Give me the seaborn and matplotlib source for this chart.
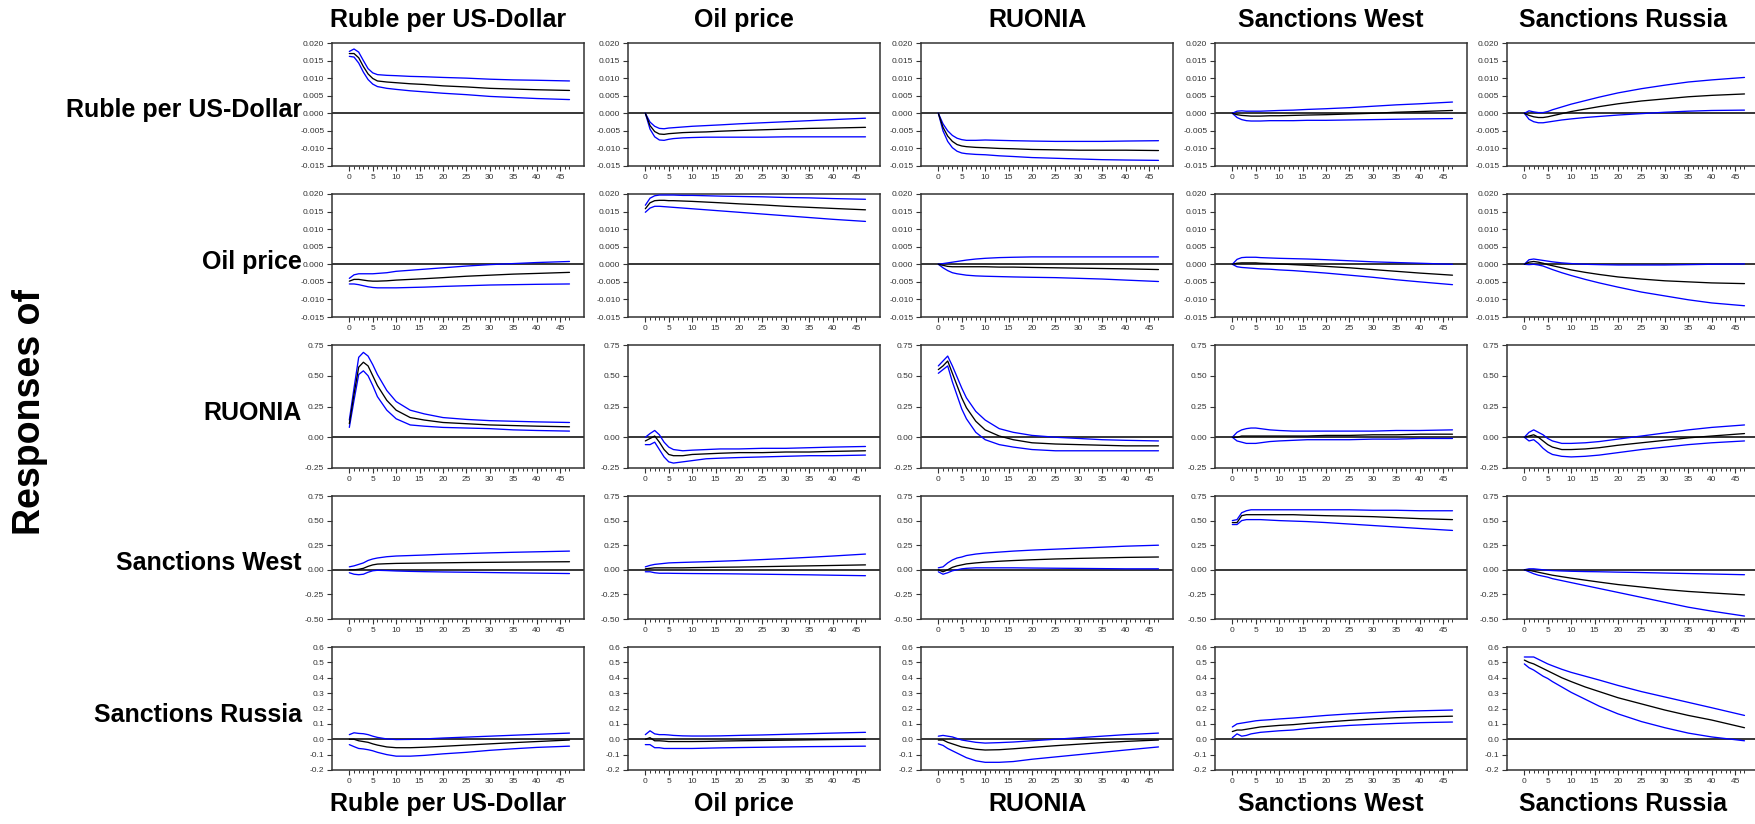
import matplotlib
matplotlib.use("Agg")
import matplotlib.pyplot as plt
import pandas as pd
import seaborn as sns
from matplotlib.ticker import FixedLocator, FormatStrFormatter, MultipleLocator

# Variables of the VAR system (shocks in columns, responses in rows)
VARIABLES = ["Ruble per US-Dollar", "Oil price", "RUONIA", "Sanctions West", "Sanctions Russia"]
HORIZON = [0, 1, 2, 3, 4, 5, 6, 8, 10, 13, 16, 20, 25, 30, 35, 40, 47]

# Responses of the ruble exchange rate; one list per shock
RUBLE_MID = [
    [.0170, .0170, .0158, .0133, .0112, .0099, .0092, .0089, .0087, .0084, .0082, .0078, .0075, .0071, .0069, .0067, .0065],
    [0, -.0035, -.0052, -.0059, -.0060, -.0058, -.0057, -.0055, -.0054, -.0053, -.0051, -.0049, -.0047, -.0045, -.0043, -.0042, -.0040],
    [0, -.0040, -.0065, -.0080, -.0089, -.0093, -.0095, -.0097, -.0098, -.0100, -.0101, -.0103, -.0104, -.0105, -.0105, -.0105, -.0106],
    [0, -.0004, -.0006, -.0007, -.0008, -.0008, -.0008, -.0007, -.0007, -.0006, -.0005, -.0004, -.0002, .0000, .0003, .0005, .0008],
    [0, -.0006, -.0010, -.0012, -.0012, -.0010, -.0007, -.0001, .0005, .0012, .0019, .0027, .0035, .0041, .0047, .0051, .0055],
]
RUBLE_LO = [
    [.0162, .0160, .0143, .0117, .0096, .0083, .0076, .0071, .0068, .0064, .0061, .0057, .0053, .0048, .0045, .0042, .0039],
    [0, -.0045, -.0067, -.0076, -.0077, -.0074, -.0072, -.0070, -.0069, -.0068, -.0068, -.0068, -.0068, -.0067, -.0067, -.0067, -.0067],
    [0, -.0050, -.0080, -.0098, -.0108, -.0113, -.0115, -.0117, -.0118, -.0121, -.0123, -.0126, -.0128, -.0130, -.0132, -.0133, -.0134],
    [0, -.0012, -.0018, -.0021, -.0022, -.0022, -.0022, -.0021, -.0021, -.0021, -.0020, -.0020, -.0019, -.0018, -.0017, -.0016, -.0015],
    [0, -.0017, -.0024, -.0027, -.0027, -.0025, -.0023, -.0019, -.0016, -.0012, -.0009, -.0005, -.0001, .0003, .0006, .0008, .0009],
]
RUBLE_HI = [
    [.0176, .0183, .0174, .0150, .0127, .0115, .0110, .0108, .0107, .0105, .0104, .0102, .0100, .0097, .0095, .0094, .0092],
    [0, -.0025, -.0037, -.0043, -.0044, -.0042, -.0041, -.0039, -.0037, -.0035, -.0033, -.0030, -.0027, -.0024, -.0021, -.0018, -.0014],
    [0, -.0030, -.0050, -.0063, -.0071, -.0075, -.0077, -.0077, -.0076, -.0077, -.0078, -.0079, -.0080, -.0080, -.0080, -.0079, -.0078],
    [0, .0006, .0007, .0006, .0006, .0006, .0006, .0007, .0008, .0009, .0011, .0013, .0016, .0020, .0024, .0027, .0032],
    [0, .0007, .0004, .0002, .0002, .0005, .0010, .0018, .0026, .0036, .0046, .0058, .0070, .0080, .0089, .0095, .0102],
]

# Responses of the oil price
OIL_MID = [
    [-.0048, -.0043, -.0043, -.0045, -.0047, -.0048, -.0048, -.0047, -.0045, -.0043, -.0041, -.0038, -.0034, -.0031, -.0028, -.0026, -.0023],
    [.0158, .0175, .0181, .0182, .0182, .0181, .0181, .0180, .0179, .0177, .0175, .0172, .0169, .0165, .0162, .0159, .0155],
    [0, -.0003, -.0006, -.0007, -.0007, -.0007, -.0007, -.0007, -.0007, -.0008, -.0008, -.0009, -.0010, -.0011, -.0012, -.0013, -.0015],
    [0, .0003, .0004, .0004, .0004, .0004, .0003, .0002, .0001, -.0001, -.0003, -.0006, -.0010, -.0015, -.0020, -.0025, -.0031],
    [0, .0006, .0008, .0006, .0003, -.0001, -.0004, -.0010, -.0016, -.0023, -.0029, -.0036, -.0042, -.0047, -.0050, -.0053, -.0055],
]
OIL_LO = [
    [-.0056, -.0056, -.0058, -.0061, -.0064, -.0066, -.0067, -.0067, -.0067, -.0066, -.0065, -.0063, -.0061, -.0059, -.0058, -.0057, -.0056],
    [.0148, .0160, .0165, .0165, .0164, .0163, .0162, .0160, .0158, .0155, .0152, .0148, .0143, .0138, .0133, .0128, .0122],
    [0, -.0010, -.0018, -.0024, -.0027, -.0029, -.0031, -.0033, -.0034, -.0035, -.0036, -.0037, -.0038, -.0040, -.0042, -.0045, -.0049],
    [0, -.0007, -.0009, -.0010, -.0011, -.0012, -.0013, -.0014, -.0016, -.0018, -.0021, -.0025, -.0031, -.0037, -.0044, -.0050, -.0058],
    [0, -.0001, .0000, -.0002, -.0005, -.0010, -.0015, -.0024, -.0032, -.0043, -.0053, -.0065, -.0079, -.0090, -.0101, -.0110, -.0118],
]
OIL_HI = [
    [-.0040, -.0030, -.0027, -.0027, -.0027, -.0027, -.0026, -.0024, -.0020, -.0017, -.0014, -.0010, -.0005, -.0001, .0002, .0005, .0008],
    [.0168, .0188, .0195, .0197, .0197, .0197, .0197, .0196, .0196, .0195, .0194, .0193, .0192, .0190, .0189, .0187, .0185],
    [0, .0002, .0004, .0006, .0008, .0010, .0012, .0015, .0017, .0019, .0020, .0021, .0021, .0021, .0021, .0021, .0021],
    [0, .0014, .0019, .0020, .0020, .0020, .0019, .0018, .0017, .0016, .0015, .0013, .0010, .0007, .0005, .0003, .0000],
    [0, .0013, .0015, .0013, .0011, .0009, .0007, .0004, .0002, .0000, -.0001, -.0002, -.0002, -.0002, -.0001, .0000, .0001],
]

# Responses of the RUONIA interbank rate
RUONIA_MID = [
    [.11, .35, .57, .61, .58, .50, .42, .30, .22, .16, .14, .12, .11, .10, .095, .09, .085],
    [-.03, -.01, .01, -.04, -.10, -.14, -.15, -.15, -.14, -.135, -.13, -.125, -.125, -.12, -.12, -.115, -.11],
    [.55, .58, .62, .52, .42, .32, .24, .13, .06, .01, -.02, -.045, -.055, -.06, -.065, -.07, -.07],
    [0, .00, .01, .01, .01, .01, .01, .01, .01, .01, .01, .015, .015, .02, .02, .025, .025],
    [0, .01, .02, .00, -.03, -.06, -.08, -.10, -.10, -.095, -.085, -.065, -.045, -.025, -.005, .01, .03],
]
RUONIA_LO = [
    [.08, .30, .51, .54, .50, .42, .33, .22, .15, .10, .09, .08, .075, .07, .06, .055, .05],
    [-.06, -.06, -.04, -.10, -.16, -.20, -.21, -.20, -.19, -.175, -.17, -.165, -.16, -.155, -.15, -.15, -.145],
    [.52, .55, .58, .45, .34, .23, .15, .04, -.02, -.06, -.08, -.10, -.11, -.11, -.11, -.11, -.11],
    [0, -.03, -.04, -.05, -.05, -.05, -.045, -.035, -.03, -.025, -.02, -.02, -.02, -.015, -.015, -.01, -.01],
    [0, -.03, -.02, -.05, -.09, -.12, -.14, -.155, -.16, -.155, -.145, -.125, -.10, -.08, -.06, -.045, -.03],
]
RUONIA_HI = [
    [.14, .40, .65, .69, .66, .59, .51, .38, .29, .22, .19, .16, .145, .135, .13, .125, .12],
    [.00, .03, .055, .02, -.04, -.08, -.10, -.11, -.105, -.10, -.095, -.095, -.09, -.09, -.085, -.08, -.075],
    [.58, .62, .66, .58, .49, .40, .32, .21, .14, .07, .04, .015, .00, -.01, -.02, -.025, -.03],
    [0, .04, .06, .07, .075, .075, .07, .06, .055, .05, .05, .05, .05, .05, .055, .055, .06],
    [0, .04, .06, .04, .02, -.01, -.03, -.05, -.05, -.045, -.035, -.015, .01, .035, .06, .08, .10],
]

# Responses of western sanctions
SWEST_MID = [
    [0, 0, .005, .015, .035, .05, .058, .062, .065, .067, .069, .071, .074, .076, .078, .08, .082],
    [.01, .015, .02, .02, .02, .02, .02, .02, .022, .024, .026, .028, .032, .036, .04, .044, .05],
    [.00, -.02, .00, .025, .04, .05, .06, .07, .078, .087, .094, .102, .11, .116, .121, .126, .13],
    [.48, .48, .55, .56, .56, .56, .56, .56, .56, .56, .555, .55, .545, .54, .53, .52, .51],
    [0, -.005, -.015, -.025, -.035, -.045, -.055, -.07, -.085, -.105, -.125, -.15, -.175, -.20, -.22, -.235, -.255],
]
SWEST_LO = [
    [-.03, -.045, -.05, -.045, -.025, -.01, -.005, -.008, -.012, -.016, -.019, -.022, -.025, -.028, -.031, -.034, -.038],
    [-.02, -.02, -.03, -.035, -.035, -.035, -.036, -.037, -.038, -.039, -.04, -.042, -.045, -.048, -.051, -.055, -.06],
    [-.02, -.045, -.03, -.01, .00, .01, .015, .02, .02, .02, .02, .018, .016, .014, .012, .01, .01],
    [.46, .46, .50, .51, .51, .51, .51, .505, .50, .495, .49, .48, .465, .45, .435, .42, .40],
    [0, -.02, -.04, -.055, -.065, -.075, -.09, -.11, -.13, -.16, -.19, -.23, -.28, -.33, -.38, -.42, -.47],
]
SWEST_HI = [
    [.03, .04, .055, .07, .095, .11, .12, .133, .14, .145, .15, .158, .165, .172, .178, .183, .19],
    [.03, .045, .055, .06, .065, .07, .072, .075, .078, .082, .087, .094, .104, .115, .127, .14, .16],
    [.02, .03, .07, .10, .12, .13, .145, .16, .17, .18, .19, .20, .21, .22, .23, .24, .25],
    [.50, .51, .58, .60, .61, .61, .61, .61, .61, .61, .61, .61, .61, .605, .605, .60, .60],
    [0, .01, .01, .005, .0, -.005, -.008, -.012, -.015, -.018, -.02, -.024, -.028, -.033, -.038, -.043, -.05],
]

# Responses of Russian counter-sanctions
SRUS_MID = [
    [.0, .0, -.01, -.015, -.02, -.03, -.038, -.05, -.055, -.055, -.052, -.046, -.038, -.03, -.022, -.015, -.005],
    [.0, .01, -.01, -.01, -.012, -.015, -.015, -.015, -.015, -.014, -.012, -.01, -.008, -.006, -.004, -.002, .0],
    [-.005, -.005, -.02, -.03, -.04, -.05, -.055, -.065, -.07, -.068, -.062, -.053, -.042, -.032, -.022, -.014, -.005],
    [.05, .06, .06, .065, .07, .075, .08, .085, .09, .095, .103, .112, .123, .132, .14, .145, .15],
    [.515, .50, .49, .475, .46, .445, .43, .40, .375, .34, .31, .27, .23, .19, .155, .125, .075],
]
SRUS_LO = [
    [-.035, -.048, -.06, -.063, -.068, -.075, -.085, -.10, -.11, -.11, -.105, -.095, -.085, -.072, -.062, -.053, -.045],
    [-.035, -.035, -.055, -.055, -.06, -.06, -.06, -.06, -.06, -.058, -.056, -.054, -.052, -.05, -.048, -.047, -.045],
    [-.03, -.04, -.06, -.075, -.09, -.105, -.12, -.14, -.15, -.15, -.145, -.13, -.115, -.10, -.085, -.07, -.05],
    [.01, .035, .02, .025, .035, .04, .045, .05, .055, .06, .07, .08, .09, .097, .103, .108, .112],
    [.49, .465, .45, .43, .41, .395, .375, .34, .305, .26, .215, .165, .115, .075, .04, .015, -.01],
]
SRUS_HI = [
    [.03, .042, .038, .036, .03, .02, .012, .002, -.002, -.001, .002, .008, .014, .02, .026, .032, .04],
    [.03, .055, .035, .03, .03, .028, .025, .022, .021, .021, .022, .025, .028, .032, .036, .04, .045],
    [.02, .025, .02, .015, .005, -.005, -.01, -.02, -.025, -.022, -.018, -.01, .0, .01, .02, .03, .04],
    [.08, .10, .105, .11, .115, .12, .123, .127, .132, .138, .145, .155, .165, .173, .18, .185, .19],
    [.535, .535, .535, .52, .505, .49, .478, .455, .435, .41, .385, .35, .31, .275, .24, .205, .155],
]

RESPONSES = [
    (RUBLE_MID, RUBLE_LO, RUBLE_HI),
    (OIL_MID, OIL_LO, OIL_HI),
    (RUONIA_MID, RUONIA_LO, RUONIA_HI),
    (SWEST_MID, SWEST_LO, SWEST_HI),
    (SRUS_MID, SRUS_LO, SRUS_HI),
]

# Vertical scale per response row
Y_LIMITS = [(-0.015, 0.020), (-0.015, 0.020), (-0.25, 0.75), (-0.50, 0.75), (-0.2, 0.6)]
Y_STEPS = [0.005, 0.005, 0.25, 0.25, 0.1]
Y_FORMATS = ["%.3f", "%.3f", "%.2f", "%.2f", "%.1f"]

sns.set_style("ticks")
plt.rcParams["font.family"] = ["Liberation Sans", "DejaVu Sans"]
plt.rcParams["axes.unicode_minus"] = False
plt.rcParams["text.color"] = "black"

FIG_W, FIG_H = 1755, 824
fig = plt.figure(figsize=(FIG_W / 100, FIG_H / 100), dpi=100, facecolor="white")

# Panel grid in pixels
COL_LEFT = [332, 628, 921, 1215, 1507]
ROW_TOP = [43, 194, 345, 496, 647]
PANEL_W, PANEL_H = 252, 123

PALETTE = {"lower": "#0000ff", "estimate": "#000000", "upper": "#0000ff"}
SPINE = "#333333"


def fx(px):
    return px / FIG_W


def fy(py):
    return 1 - py / FIG_H


for r, (mid_rows, lo_rows, hi_rows) in enumerate(RESPONSES):
    for c in range(len(VARIABLES)):
        ax = fig.add_axes([fx(COL_LEFT[c]), fy(ROW_TOP[r] + PANEL_H), PANEL_W / FIG_W, PANEL_H / FIG_H])
        n = len(HORIZON)
        df = pd.DataFrame({
            "horizon": HORIZON * 3,
            "response": list(lo_rows[c]) + list(mid_rows[c]) + list(hi_rows[c]),
            "band": ["lower"] * n + ["estimate"] * n + ["upper"] * n,
        })
        ax.axhline(0, color="black", lw=1.1, zorder=1)
        sns.lineplot(data=df, x="horizon", y="response", hue="band", palette=PALETTE,
                     hue_order=["lower", "upper", "estimate"], estimator=None,
                     legend=False, linewidth=0.95, ax=ax, zorder=3)
        ax.set_xlim(-3.7, 50.1)
        ax.set_ylim(*Y_LIMITS[r])
        ax.xaxis.set_major_locator(FixedLocator(list(range(0, 46, 5))))
        ax.xaxis.set_minor_locator(FixedLocator(list(range(0, 48))))
        ax.yaxis.set_major_locator(MultipleLocator(Y_STEPS[r]))
        ax.yaxis.set_major_formatter(FormatStrFormatter(Y_FORMATS[r]))
        ax.set_xlabel("")
        ax.set_ylabel("")
        for side in ["left", "right", "top", "bottom"]:
            ax.spines[side].set_visible(True)
            ax.spines[side].set_color(SPINE)
            ax.spines[side].set_linewidth(1.1)
        ax.tick_params(axis="both", which="major", direction="out", length=3.5, width=0.8,
                       color=SPINE, labelsize=6, labelcolor="#333333", pad=2)
        ax.tick_params(axis="x", which="minor", direction="out", length=2, width=0.7, color=SPINE)
        ax.set_facecolor("white")

TITLE_STYLE = dict(fontsize=18, fontweight="bold", ha="center", va="center", color="black")
for c, name in enumerate(VARIABLES):
    cx = COL_LEFT[c] + PANEL_W / 2 - 10
    fig.text(fx(cx), fy(20), name, **TITLE_STYLE)
    fig.text(fx(cx), fy(804), name, **TITLE_STYLE)

for r, name in enumerate(VARIABLES):
    cy = ROW_TOP[r] + PANEL_H / 2 + 6
    fig.text(fx(302), fy(cy), name, fontsize=18, fontweight="bold", ha="right", va="center",
             color="black")

fig.text(fx(30), fy(412), "Responses of", fontsize=27, fontweight="bold",
         rotation=90, ha="center", va="center", color="black")

fig.savefig("out.png", dpi=100, facecolor="white")
